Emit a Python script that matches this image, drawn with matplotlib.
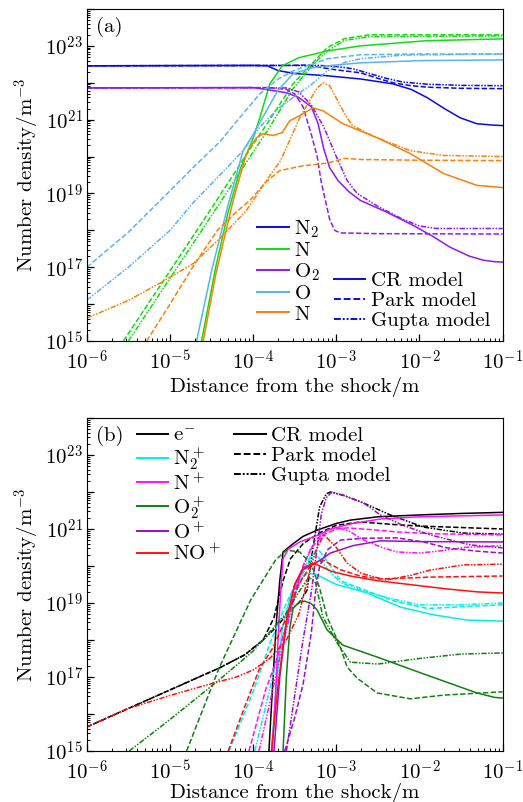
import numpy as np
import matplotlib
matplotlib.use("Agg")
import matplotlib.pyplot as plt
from matplotlib.lines import Line2D
from matplotlib.ticker import LogLocator, NullFormatter

FS = 15
plt.rcParams.update({
    "font.family": "serif",
    "font.serif": ["cmr10"],
    "mathtext.fontset": "cm",
    "axes.unicode_minus": False,
    "font.size": FS,
})

# curves as (log10 distance, log10 density)
# ---- panel (a): neutrals
N2_CR = [(-6, 22.46), (-4.0, 22.47), (-3.83, 22.46), (-3.7, 22.33), (-3.5, 22.25), (-3.11, 22.19),
         (-2.7, 22.1), (-2.32, 21.97), (-2.1, 21.82), (-1.91, 21.6), (-1.7, 21.3), (-1.51, 21.05),
         (-1.31, 20.89), (-1.1, 20.85), (-1, 20.84)]
N2_PARK = [(-6, 22.46), (-3.6, 22.47), (-3.35, 22.48), (-3.2, 22.42), (-3.0, 22.35), (-2.71, 22.27),
           (-2.5, 22.12), (-2.32, 22.0), (-2.1, 21.92), (-1.9, 21.88), (-1.5, 21.85), (-1, 21.84)]
N2_GUPTA = [(-6, 22.46), (-3.2, 22.47), (-3.0, 22.44), (-2.8, 22.38), (-2.6, 22.25), (-2.4, 22.12),
            (-2.2, 22.02), (-1.9, 21.96), (-1.5, 21.93), (-1, 21.92)]

N_CR = [(-4.62, 15), (-4.45, 17.0), (-4.3, 18.5), (-4.15, 19.7), (-4.01, 20.43), (-3.92, 21.05),
        (-3.8, 21.97), (-3.65, 22.46), (-3.45, 22.68), (-3.11, 22.86), (-2.71, 23.0), (-1.91, 23.14),
        (-1, 23.19)]
N_PARK = [(-5.56, 15), (-5.0, 16.9), (-4.5, 18.6), (-4.05, 20.16), (-3.8, 21.0), (-3.52, 21.97),
          (-3.3, 22.5), (-3.11, 22.95), (-2.9, 23.2), (-2.6, 23.3), (-1, 23.3)]
N_GUPTA = [(-5.5, 15), (-5.0, 16.7), (-4.5, 18.4), (-4.05, 19.95), (-3.8, 20.8), (-3.52, 21.84),
           (-3.3, 22.45), (-3.11, 22.86), (-2.9, 23.15), (-2.6, 23.25), (-1, 23.27)]

O2_CR = [(-6, 21.86), (-4.0, 21.87), (-3.85, 21.82), (-3.6, 21.73), (-3.45, 21.6), (-3.3, 21.35),
         (-3.22, 20.9), (-3.15, 20.2), (-3.08, 19.7), (-2.98, 19.35), (-2.85, 19.05), (-2.71, 18.81),
         (-2.4, 18.5), (-2.08, 18.14), (-1.85, 17.85), (-1.63, 17.54), (-1.4, 17.3), (-1.23, 17.19),
         (-1.1, 17.15), (-1, 17.14)]
O2_PARK = [(-6, 21.86), (-3.8, 21.87), (-3.6, 21.82), (-3.5, 21.7), (-3.4, 21.35), (-3.3, 20.6),
           (-3.23, 20.0), (-3.18, 19.3), (-3.13, 18.8), (-3.08, 18.3), (-3.02, 18.0), (-2.95, 17.93),
           (-2.5, 17.91), (-1, 17.9)]
O2_GUPTA = [(-6, 21.86), (-3.6, 21.86), (-3.45, 21.75), (-3.3, 21.4), (-3.15, 20.8), (-3.0, 20.0),
            (-2.87, 19.35), (-2.75, 19.0), (-2.5, 18.65), (-2.2, 18.3), (-2.0, 18.12), (-1.8, 18.05),
            (-1, 18.05)]

O_CR = [(-4.68, 15), (-4.5, 16.9), (-4.3, 18.7), (-4.12, 20.16), (-4.0, 20.6), (-3.84, 21.24),
        (-3.7, 21.8), (-3.52, 22.24), (-3.3, 22.4), (-3.11, 22.46), (-2.71, 22.54), (-2.0, 22.6),
        (-1, 22.62)]
O_PARK = [(-6, 17.0), (-5.5, 17.95), (-5.08, 18.89), (-4.7, 19.75), (-4.4, 20.4), (-4.2, 20.95),
          (-3.92, 21.7), (-3.7, 22.1), (-3.52, 22.32), (-3.11, 22.65), (-2.71, 22.76), (-2.0, 22.78),
          (-1, 22.78)]
O_GUPTA = [(-6, 16.11), (-5.5, 17.0), (-5.0, 18.0), (-4.72, 18.75), (-4.4, 19.5), (-4.12, 20.16),
           (-3.92, 20.8), (-3.7, 21.3), (-3.52, 21.6), (-3.3, 21.95), (-3.11, 22.32), (-2.9, 22.55),
           (-2.71, 22.65), (-2.2, 22.75), (-1, 22.78)]

NO_CR = [(-4.6, 15), (-4.45, 16.8), (-4.24, 18.81), (-4.08, 20.08), (-3.96, 20.51), (-3.88, 20.62),
         (-3.76, 20.57), (-3.65, 20.65), (-3.56, 20.97), (-3.44, 21.11), (-3.28, 21.32), (-3.16, 21.24),
         (-2.92, 20.89), (-2.51, 20.51), (-2.11, 20.08), (-1.71, 19.54), (-1.31, 19.22), (-1, 19.16)]
NO_PARK = [(-5.28, 15), (-5.0, 16.0), (-4.7, 17.1), (-4.43, 18.0), (-4.2, 18.5), (-4.04, 18.81),
           (-3.85, 19.3), (-3.68, 19.62), (-3.4, 19.75), (-3.11, 19.82), (-2.9, 19.95), (-2.7, 19.92),
           (-2, 19.9), (-1, 19.89)]
NO_GUPTA = [(-6, 15.62), (-5.5, 16.1), (-5.12, 16.57), (-4.72, 17.1), (-4.4, 17.78), (-4.08, 18.54),
            (-3.84, 19.35), (-3.67, 19.89), (-3.44, 21.05), (-3.3, 21.6), (-3.23, 21.86), (-3.16, 22.0),
            (-3.08, 21.92), (-2.98, 21.5), (-2.9, 21.16), (-2.81, 20.85), (-2.6, 20.6), (-2.51, 20.51),
            (-2.11, 20.16), (-1.71, 20.03), (-1, 20.0)]

# ---- panel (b): charged species
E_CR = [(-3.81, 15), (-3.76, 17.0), (-3.72, 18.5), (-3.68, 19.6), (-3.64, 20.38), (-3.52, 20.6),
        (-3.4, 20.8), (-3.23, 20.97), (-3.0, 21.15), (-2.83, 21.24), (-2.5, 21.33), (-2.0, 21.38),
        (-1.5, 21.42), (-1, 21.45)]
E_PARK = [(-6, 15.65), (-5.5, 16.15), (-5.0, 16.65), (-4.41, 17.24), (-4.1, 17.6), (-3.88, 18.0),
          (-3.75, 18.6), (-3.64, 19.6), (-3.55, 20.2), (-3.4, 20.6), (-3.2, 20.9), (-3.0, 21.1),
          (-2.71, 21.19), (-2.3, 21.12), (-2.0, 21.08), (-1, 21.0)]
E_GUPTA = [(-6, 15.65), (-5.5, 16.15), (-5.0, 16.65), (-4.41, 17.24), (-4.1, 17.6), (-3.88, 18.0),
           (-3.7, 18.4), (-3.56, 18.8), (-3.45, 19.0), (-3.35, 19.35), (-3.28, 20.5), (-3.2, 21.6),
           (-3.12, 21.95), (-3.07, 22.0), (-2.9, 21.9), (-2.67, 21.7), (-2.35, 21.38), (-1.95, 21.05),
           (-1.47, 20.89), (-1, 20.86)]

N2P_CR = [(-3.78, 15), (-3.72, 16.8), (-3.65, 18.3), (-3.55, 19.2), (-3.45, 19.6), (-3.35, 19.8),
          (-3.25, 19.78), (-3.0, 19.5), (-2.83, 19.4), (-2.63, 19.27), (-2.23, 18.89), (-1.83, 18.68),
          (-1.43, 18.54), (-1, 18.51)]
N2P_PARK = [(-4.29, 15), (-4.0, 16.6), (-3.8, 17.9), (-3.6, 19.0), (-3.45, 19.7), (-3.3, 20.3),
            (-3.2, 20.4), (-3.1, 20.1), (-2.95, 19.6), (-2.6, 19.3), (-2.3, 19.05), (-1.9, 18.85),
            (-1.5, 18.9), (-1, 18.95)]
N2P_GUPTA = [(-3.98, 15), (-3.85, 16.2), (-3.7, 17.6), (-3.55, 18.9), (-3.4, 19.8), (-3.3, 20.2),
             (-3.22, 20.25), (-3.1, 19.9), (-2.95, 19.55), (-2.7, 19.35), (-2.4, 19.15), (-2.0, 18.95),
             (-1.5, 18.95), (-1, 19.0)]

NP_CR = [(-3.77, 15), (-3.72, 17.0), (-3.69, 18.5), (-3.66, 19.6), (-3.64, 20.2), (-3.58, 20.45),
         (-3.44, 20.65), (-3.2, 20.85), (-3.07, 21.0), (-2.8, 21.15), (-2.47, 21.27), (-2.0, 21.33),
         (-1, 21.38)]
NP_PARK = [(-4.05, 15), (-3.85, 16.65), (-3.73, 17.38), (-3.6, 18.4), (-3.5, 19.3), (-3.4, 20.0),
           (-3.3, 20.5), (-3.15, 20.85), (-3.0, 21.0), (-2.87, 21.03), (-2.5, 20.97), (-2.27, 20.92),
           (-1.8, 20.87), (-1, 20.84)]
NP_GUPTA = [(-3.93, 15), (-3.8, 16.3), (-3.65, 17.8), (-3.5, 19.2), (-3.38, 20.1), (-3.25, 20.7),
            (-3.1, 20.98), (-2.98, 21.03), (-2.85, 20.95), (-2.67, 20.7), (-2.45, 20.5), (-2.27, 20.38),
            (-2.0, 20.35), (-1.7, 20.42), (-1.47, 20.5), (-1, 20.55)]

O2P_CR = [(-3.64, 15), (-3.6, 17.0), (-3.56, 18.3), (-3.52, 18.85), (-3.45, 19.02), (-3.38, 19.05),
          (-3.3, 18.98), (-3.23, 18.81), (-3.11, 18.27), (-2.92, 17.86), (-2.51, 17.54), (-1.91, 17.05),
          (-1.31, 16.57), (-1.1, 16.45), (-1, 16.43)]
O2P_PARK = [(-4.8, 15), (-4.41, 17.24), (-4.03, 19.08), (-3.88, 19.62), (-3.73, 20.16), (-3.6, 20.43),
            (-3.44, 20.38), (-3.3, 20.05), (-3.2, 19.4), (-3.11, 18.62), (-2.95, 17.8), (-2.87, 17.27),
            (-2.75, 16.97), (-2.51, 16.57), (-2.11, 16.41), (-1.71, 16.51), (-1, 16.6)]
O2P_GUPTA = [(-5.49, 15), (-5.0, 15.85), (-4.41, 16.92), (-4.0, 17.7), (-3.6, 18.73), (-3.45, 19.3),
             (-3.33, 19.7), (-3.25, 19.55), (-3.16, 18.62), (-2.99, 17.92), (-2.83, 17.4), (-2.5, 17.35),
             (-2.0, 17.5), (-1.5, 17.62), (-1, 17.65)]

OP_CR = [(-3.75, 15), (-3.68, 17.0), (-3.6, 18.5), (-3.5, 19.5), (-3.4, 19.9), (-3.2, 20.15),
         (-3.07, 20.35), (-2.8, 20.55), (-2.47, 20.68), (-2.0, 20.66), (-1, 20.65)]
OP_PARK = [(-3.62, 15), (-3.5, 15.9), (-3.4, 16.8), (-3.3, 18.2), (-3.25, 19.3), (-3.2, 20.0),
           (-3.1, 20.45), (-2.95, 20.7), (-2.67, 20.75), (-2.27, 20.76), (-1.95, 20.65), (-1.67, 20.49),
           (-1.3, 20.4), (-1, 20.35)]
OP_GUPTA = [(-3.6, 15), (-3.5, 16.5), (-3.4, 18.0), (-3.3, 19.3), (-3.23, 20.5), (-3.18, 21.4),
            (-3.12, 21.85), (-3.05, 22.0), (-2.9, 21.9), (-2.67, 21.7), (-2.47, 21.38), (-2.2, 21.1),
            (-1.87, 20.84), (-1.39, 20.57), (-1, 20.49)]

NOP_CR = [(-3.78, 15), (-3.7, 16.8), (-3.6, 18.5), (-3.5, 19.5), (-3.4, 19.95), (-3.3, 20.05),
          (-3.23, 20.03), (-3.05, 19.85), (-2.83, 19.73), (-2.5, 19.6), (-2.27, 19.54), (-1.67, 19.38),
          (-1.3, 19.3), (-1, 19.27)]
NOP_PARK = [(-4.3, 15), (-4.1, 16.2), (-3.93, 17.19), (-3.76, 17.8), (-3.6, 18.6), (-3.45, 19.5),
            (-3.3, 20.05), (-3.15, 20.15), (-2.95, 19.9), (-2.7, 19.72), (-2.47, 19.65), (-2.1, 19.68),
            (-1.87, 19.7), (-1, 19.73)]
NOP_GUPTA = [(-6, 15.65), (-5.5, 16.15), (-5.0, 16.5), (-4.44, 16.86), (-4.2, 17.0), (-4.0, 17.19),
             (-3.8, 17.5), (-3.6, 18.0), (-3.45, 18.7), (-3.35, 19.6), (-3.25, 20.4), (-3.15, 20.85),
             (-3.0, 20.5), (-2.87, 20.08), (-2.7, 19.8), (-2.4, 19.62), (-2.1, 19.75), (-1.87, 19.89),
             (-1.47, 20.03), (-1, 20.05)]

species_a = [r"$\mathrm{N}_2$", r"$\mathrm{N}$", r"$\mathrm{O}_2$", r"$\mathrm{O}$", r"$\mathrm{N}$"]
colors_a = ["#0a0ae6", "#10dd10", "#8f1aef", "#5ab4f0", "#fa800a"]
curves_a = [(N2_CR, N2_PARK, N2_GUPTA), (N_CR, N_PARK, N_GUPTA), (O2_CR, O2_PARK, O2_GUPTA),
            (O_CR, O_PARK, O_GUPTA), (NO_CR, NO_PARK, NO_GUPTA)]

species_b = [r"$\mathrm{e}^{-}$", r"$\mathrm{N}_2^+$", r"$\mathrm{N}^+$", r"$\mathrm{O}_2^+$",
             r"$\mathrm{O}^+$", r"$\mathrm{NO}^+$"]
colors_b = ["#000000", "#00eeee", "#ff10ff", "#108010", "#9a10c8", "#ff1010"]
curves_b = [(E_CR, E_PARK, E_GUPTA), (N2P_CR, N2P_PARK, N2P_GUPTA), (NP_CR, NP_PARK, NP_GUPTA),
            (O2P_CR, O2P_PARK, O2P_GUPTA), (OP_CR, OP_PARK, OP_GUPTA), (NOP_CR, NOP_PARK, NOP_GUPTA)]

models = ["CR model", "Park model", "Gupta model"]
styles = ["-", (0, (3.5, 1.5)), (0, (3.5, 1, 1, 1, 1, 1))]


def setup(ax, xpad):
    ax.set_xscale("log")
    ax.set_yscale("log")
    ax.set_xlim(1e-6, 1e-1)
    ax.set_ylim(1e15, 1e24)
    ax.set_yticks([10.0 ** k for k in range(15, 25)])
    ax.set_yticklabels([f"$10^{{{k}}}$" if k % 2 else "" for k in range(15, 25)])
    ax.set_xticks([10.0 ** k for k in range(-6, 0)])
    ax.set_xticklabels([f"$10^{{{k}}}$" for k in range(-6, 0)])
    ax.yaxis.set_minor_locator(LogLocator(base=10, subs=np.arange(2, 10), numticks=20))
    ax.xaxis.set_minor_locator(LogLocator(base=10, subs=np.arange(2, 10), numticks=20))
    ax.yaxis.set_minor_formatter(NullFormatter())
    ax.xaxis.set_minor_formatter(NullFormatter())
    ax.tick_params(which="both", direction="in", labelsize=FS)
    ax.tick_params(which="major", length=5, width=0.9)
    ax.tick_params(axis="x", which="major", pad=6.5)
    ax.tick_params(axis="y", which="major", pad=3)
    ax.tick_params(which="minor", length=2.5, width=0.7)
    ax.set_xlabel("Distance from the shock/m", fontsize=FS, labelpad=xpad)
    ax.set_ylabel(r"Number density/m$^{-3}$", fontsize=FS, labelpad=2)


def draw(ax, curves, colors):
    for trio, c in zip(curves, colors):
        for pts, ls in zip(trio, styles):
            a = np.array(pts)
            ax.plot(10 ** a[:, 0], 10 ** a[:, 1], color=c, ls=ls, lw=1.1)


fig = plt.figure(figsize=(5.23, 8.02), dpi=100)
ax1 = fig.add_axes([0.166, 0.5748, 0.795, 0.414])
ax2 = fig.add_axes([0.166, 0.0636, 0.795, 0.4152])

for ax, curves, colors, tag, xpad in [(ax1, curves_a, colors_a, "(a)", 2),
                                      (ax2, curves_b, colors_b, "(b)", -1)]:
    setup(ax, xpad)
    draw(ax, curves, colors)
    ax.text(0.022, 0.975, tag, transform=ax.transAxes, ha="left", va="top", fontsize=FS)

leg_kw = dict(frameon=False, handlelength=1.5, handletextpad=0.25,
              borderpad=0, borderaxespad=0, fontsize=FS)

h = [Line2D([], [], color=c, lw=1.4) for c in colors_a]
l1 = ax1.legend(h, species_a, loc="upper left", bbox_to_anchor=(0.41, 0.37),
                labelspacing=0.08, **leg_kw)
ax1.add_artist(l1)
h = [Line2D([], [], color=colors_a[0], lw=1.4, ls=s) for s in styles]
ax1.legend(h, models, loc="upper left", bbox_to_anchor=(0.595, 0.21), labelspacing=0.08, **leg_kw)

h = [Line2D([], [], color=c, lw=1.4) for c in colors_b]
l2 = ax2.legend(h, species_b, loc="upper left", bbox_to_anchor=(0.12, 0.975),
                labelspacing=0.02, **leg_kw)
ax2.add_artist(l2)
h = [Line2D([], [], color="k", lw=1.4, ls=s) for s in styles]
ax2.legend(h, models, loc="upper left", bbox_to_anchor=(0.355, 0.975), labelspacing=0.08, **leg_kw)

fig.savefig("out.png", dpi=100)
